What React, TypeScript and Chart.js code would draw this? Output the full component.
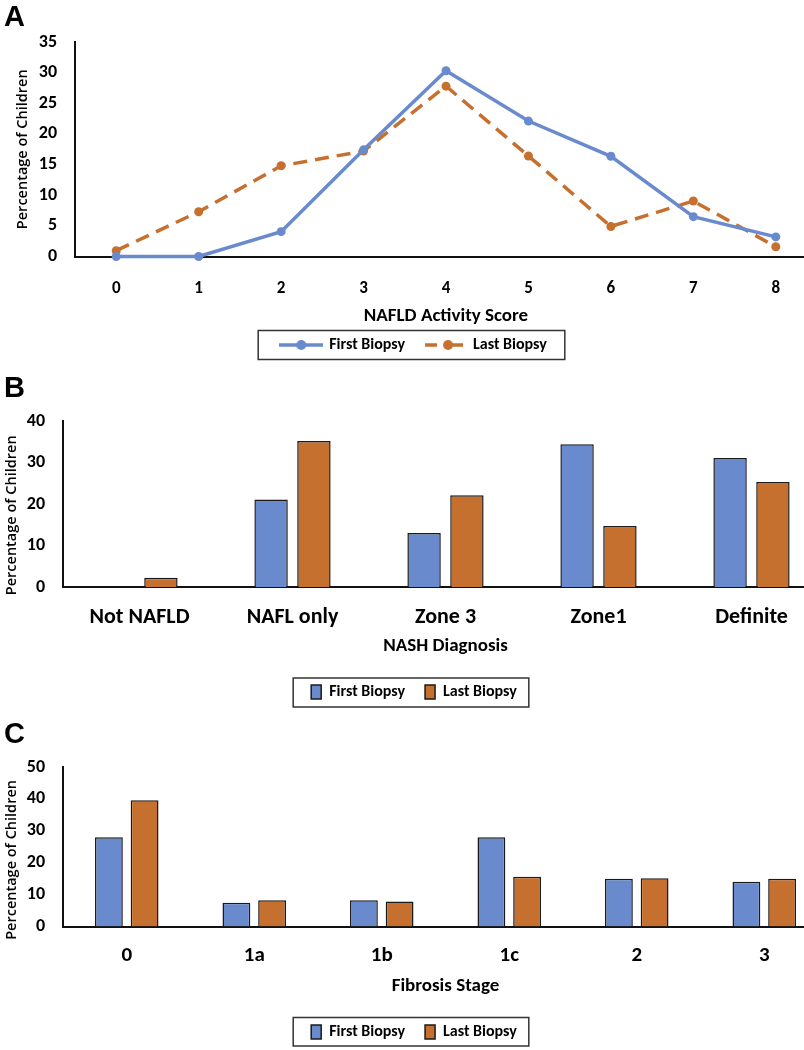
import React, { useEffect, useRef } from "react";
import { Chart, registerables } from "chart.js";

Chart.register(...registerables);

// ---------- data ----------
const seriesNames = ["First Biopsy", "Last Biopsy"];

const nasScores = ["0", "1", "2", "3", "4", "5", "6", "7", "8"];
const nasFirst = [0, 0, 4.05, 17.4, 30.3, 22.1, 16.35, 6.5, 3.2];
const nasLast = [0.95, 7.3, 14.8, 17.2, 27.8, 16.4, 4.9, 9.05, 1.6];

const nashCategories = ["Not NAFLD", "NAFL only", "Zone 3", "Zone1", "Definite"];
const nashFirst = [0, 21.1, 13.0, 34.4, 31.1];
const nashLast = [2.2, 35.2, 22.1, 14.7, 25.3];

const fibrosisStages = ["0", "1a", "1b", "1c", "2", "3"];
const fibFirst = [27.95, 7.45, 8.2, 27.95, 15.0, 14.05];
const fibLast = [39.55, 8.2, 7.8, 15.6, 15.1, 15.0];

const yTitle = "Percentage of Children";

// ---------- styles ----------
const BLUE = "#698BCD";
const ORANGE = "#C6702F";
const AXIS = "#111111";
const NARROW = "Carlito, Calibri, Lato, 'Liberation Sans', sans-serif";
const WIDE = "'Open Sans', 'Noto Sans', sans-serif";

const legendFrame = {
  id: "legendFrame",
  afterDraw(chart: any, _args: any, opts: any) {
    const lg = chart.legend;
    if (!lg || !lg.legendHitBoxes || !lg.legendHitBoxes.length) return;
    const boxes = lg.legendHitBoxes;
    const left = Math.min(...boxes.map((b: any) => b.left)) - opts.padL;
    const right = Math.max(...boxes.map((b: any) => b.left + b.width)) + opts.padR;
    const cy = boxes[0].top + boxes[0].height / 2;
    const ctx = chart.ctx;
    ctx.save();
    ctx.strokeStyle = "#333333";
    ctx.lineWidth = 1.5;
    ctx.strokeRect(left, cy - opts.up, right - left, opts.up + opts.down);
    ctx.restore();
  },
};

function lineIcon(color: string, dashed: boolean) {
  const c = document.createElement("canvas");
  c.width = 44;
  c.height = 12;
  const ctx = c.getContext("2d")!;
  ctx.strokeStyle = color;
  ctx.fillStyle = color;
  ctx.lineWidth = 3.5;
  ctx.beginPath();
  if (dashed) {
    ctx.moveTo(2, 6);
    ctx.lineTo(14, 6);
    ctx.moveTo(21, 6);
    ctx.lineTo(40, 6);
  } else {
    ctx.moveTo(0, 6);
    ctx.lineTo(44, 6);
  }
  ctx.stroke();
  ctx.beginPath();
  ctx.arc(dashed ? 25 : 22, 6, 5, 0, Math.PI * 2);
  ctx.fill();
  return c;
}

function yScale(max: number, step: number, width: number, titleText: string, titlePad: number) {
  return {
    min: 0,
    max,
    grid: { display: false, drawTicks: false },
    border: { display: true, color: AXIS, width: 2 },
    ticks: {
      stepSize: step,
      padding: 18,
      color: "#000",
      font: { family: NARROW, size: 18, weight: "bold" },
    },
    title: {
      display: true,
      text: titleText,
      color: "#000",
      font: { family: WIDE, size: 14.5, weight: "600" },
      padding: { top: titlePad, bottom: 0 },
    },
    afterFit(s: any) {
      s.width = width;
    },
  };
}

function xScale(
  titleText: string,
  tickSize: number,
  tickPad: number,
  titleTop: number,
  titleBottom: number,
  borderWidth: number
) {
  return {
    offset: true,
    grid: { display: false, drawTicks: false },
    border: { display: true, color: AXIS, width: borderWidth },
    ticks: {
      padding: tickPad,
      color: "#000",
      maxRotation: 0,
      autoSkip: false,
      font: { family: NARROW, size: tickSize, weight: "bold" },
    },
    title: {
      display: true,
      text: titleText,
      color: "#000",
      font: { family: NARROW, size: 19, weight: "bold" },
      padding: { top: titleTop, bottom: titleBottom },
    },
  };
}

function barLegend() {
  return {
    position: "bottom",
    labels: {
      boxWidth: 10,
      boxHeight: 14,
      padding: 20,
      color: "#000",
      font: { family: NARROW, size: 16, weight: "bold" },
    },
  };
}

export default function App() {
  const refA = useRef<HTMLCanvasElement>(null);
  const refB = useRef<HTMLCanvasElement>(null);
  const refC = useRef<HTMLCanvasElement>(null);

  useEffect(() => {
    const icons = [lineIcon(BLUE, false), lineIcon(ORANGE, true)];

    const chartA = new Chart(refA.current!, {
      type: "line",
      data: {
        labels: nasScores,
        datasets: [
          {
            label: seriesNames[0],
            data: nasFirst,
            borderColor: BLUE,
            backgroundColor: BLUE,
            borderWidth: 3.5,
            pointRadius: 4.5,
            pointBackgroundColor: BLUE,
            pointBorderWidth: 0,
            tension: 0,
            clip: false,
          },
          {
            label: seriesNames[1],
            data: nasLast,
            borderColor: ORANGE,
            backgroundColor: ORANGE,
            borderWidth: 3.5,
            borderDash: [14, 8],
            pointRadius: 4.5,
            pointBackgroundColor: ORANGE,
            pointBorderWidth: 0,
            tension: 0,
            clip: false,
          },
        ],
      },
      options: {
        responsive: false,
        animation: false,
        layout: { padding: { top: 42, left: 11, right: 11, bottom: 0 } },
        scales: {
          x: xScale("NAFLD Activity Score", 17, 22, -15.8, -10.9, 2) as any,
          y: yScale(35, 5, 64, yTitle, 3) as any,
        },
        plugins: {
          tooltip: { enabled: false },
          legend: {
            position: "bottom",
            labels: {
              usePointStyle: true,
              pointStyleWidth: 40,
              padding: 20,
              color: "#000",
              font: { family: NARROW, size: 16, weight: "bold" },
              generateLabels(chart: any) {
                const items = (Chart.defaults.plugins.legend.labels as any).generateLabels(chart);
                return items.map((it: any, i: number) => ({ ...it, pointStyle: icons[i] }));
              },
            },
          } as any,
          legendFrame: { padL: 23, padR: 18, up: 14.5, down: 14.5 },
        } as any,
      },
      plugins: [legendFrame],
    });

    const barSet = (label: string, data: number[], color: string) => ({
      label,
      data,
      backgroundColor: color,
      borderColor: "#1a1a1a",
      borderWidth: 1.5,
      categoryPercentage: 0.56,
      barPercentage: 0.78,
    });

    const chartB = new Chart(refB.current!, {
      type: "bar",
      data: {
        labels: nashCategories,
        datasets: [barSet(seriesNames[0], nashFirst, BLUE), barSet(seriesNames[1], nashLast, ORANGE)],
      },
      options: {
        responsive: false,
        animation: false,
        layout: { padding: { top: 56, left: 0, right: 0, bottom: 0 } },
        scales: {
          x: xScale("NASH Diagnosis", 22, 17, -12.1, 5.9, 2) as any,
          y: yScale(40, 10, 63, yTitle + "      ", 3) as any,
        },
        plugins: {
          tooltip: { enabled: false },
          legend: barLegend() as any,
          legendFrame: { padL: 18, padR: 12, up: 14, down: 15 },
        } as any,
      },
      plugins: [legendFrame],
    });

    const chartC = new Chart(refC.current!, {
      type: "bar",
      data: {
        labels: fibrosisStages,
        datasets: [barSet(seriesNames[0], fibFirst, BLUE), barSet(seriesNames[1], fibLast, ORANGE)],
      },
      options: {
        responsive: false,
        animation: false,
        layout: { padding: { top: 55, left: 0, right: 0, bottom: 0 } },
        scales: {
          x: xScale("Fibrosis Stage", 21, 17, -11.1, 6.6, 2) as any,
          y: yScale(50, 10, 63, yTitle + "       ", 3) as any,
        },
        plugins: {
          tooltip: { enabled: false },
          legend: barLegend() as any,
          legendFrame: { padL: 18, padR: 12, up: 14.5, down: 14 },
        } as any,
      },
      plugins: [legendFrame],
    });

    return () => {
      chartA.destroy();
      chartB.destroy();
      chartC.destroy();
    };
  }, []);

  const letter = (top: number): React.CSSProperties => ({
    position: "absolute",
    left: 4,
    top,
    fontFamily: "'Liberation Sans', Arial, sans-serif",
    fontWeight: "bold",
    fontSize: 29,
    lineHeight: "29px",
    color: "#000",
  });

  return (
    <div
      style={{
        position: "absolute",
        left: 0,
        top: 0,
        width: 804,
        height: 1050,
        overflow: "hidden",
        background: "#fff",
      }}
    >
      <canvas ref={refA} width={828} height={363} style={{ position: "absolute", left: 0, top: 0 }} />
      <canvas ref={refB} width={828} height={345} style={{ position: "absolute", left: 0, top: 365 }} />
      <canvas ref={refC} width={828} height={338} style={{ position: "absolute", left: 0, top: 712 }} />
      <div style={letter(2)}>A</div>
      <div style={letter(373)}>B</div>
      <div style={letter(719)}>C</div>
    </div>
  );
}
